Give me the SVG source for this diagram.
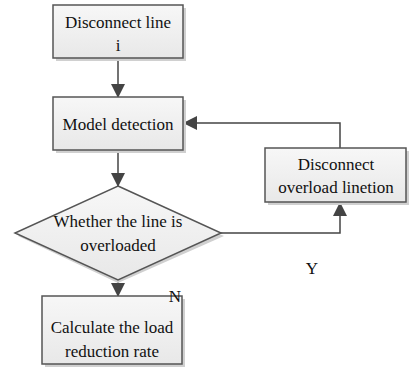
<svg xmlns="http://www.w3.org/2000/svg" width="409" height="369" viewBox="0 0 409 369">
<style>
.box{fill:url(#g);stroke:#555;stroke-width:1.5}
.sh{fill:#d0d0d0}
.t{font-family:'Liberation Serif','Times New Roman','DejaVu Serif',serif;font-size:17px;fill:#111;text-anchor:middle}
.c{fill:none;stroke:#444;stroke-width:1.5}
</style>
<defs>
<linearGradient id="g" x1="0" y1="0" x2="0" y2="1">
<stop offset="0" stop-color="#f7f7f7"/>
<stop offset="1" stop-color="#e8e8e8"/>
</linearGradient>
<marker id="a" markerWidth="14" markerHeight="14" refX="13" refY="7" orient="auto" markerUnits="userSpaceOnUse">
<path d="M0,0 L14,7 L0,14 Z" fill="#444"/>
</marker>
</defs>
<g id="connectors">
<line class="c" x1="118" y1="58" x2="118" y2="97" marker-end="url(#a)"/>
<line class="c" x1="118" y1="150" x2="118" y2="186" marker-end="url(#a)"/>
<line class="c" x1="118" y1="280" x2="118" y2="296" marker-end="url(#a)"/>
<polyline class="c" points="221,233 340,233 340,203" marker-end="url(#a)"/>
<polyline class="c" points="340,148 340,123 184,123" marker-end="url(#a)"/>
</g>
<g id="n1">
<rect class="sh" x="56" y="8" width="130" height="53"/>
<rect class="box" x="53" y="5" width="130" height="53"/>
<text class="t" x="118" y="28" font-family="Liberation Serif, serif">Disconnect line</text>
<text class="t" x="118" y="51" font-family="Liberation Serif, serif">i</text>
</g>
<g id="n2">
<rect class="sh" x="56" y="100" width="130" height="53"/>
<rect class="box" x="53" y="97" width="130" height="53"/>
<text class="t" x="118" y="130" font-family="Liberation Serif, serif">Model detection</text>
</g>
<g id="n3">
<polygon class="sh" points="118,189 224,236 118,283 18,236"/>
<polygon class="box" points="118,186 221,233 118,280 15,233"/>
<text class="t" x="118" y="227" font-family="Liberation Serif, serif">Whether the line is</text>
<text class="t" x="118" y="251" font-family="Liberation Serif, serif">overloaded</text>
</g>
<g id="n4">
<rect class="sh" x="268" y="151" width="141" height="54"/>
<rect class="box" x="265" y="148" width="141" height="54"/>
<text class="t" x="336" y="170" font-family="Liberation Serif, serif">Disconnect</text>
<text class="t" x="336" y="193" font-family="Liberation Serif, serif">overload linetion</text>
</g>
<g id="n5">
<rect class="sh" x="45" y="299" width="140" height="68"/>
<rect class="box" x="42" y="296" width="140" height="68"/>
<text class="t" x="112" y="333" font-family="Liberation Serif, serif">Calculate the load</text>
<text class="t" x="112" y="357" font-family="Liberation Serif, serif">reduction rate</text>
</g>
<text class="t" x="175" y="302" font-family="Liberation Serif, serif">N</text>
<text class="t" x="312" y="274" font-family="Liberation Serif, serif">Y</text>
</svg>
